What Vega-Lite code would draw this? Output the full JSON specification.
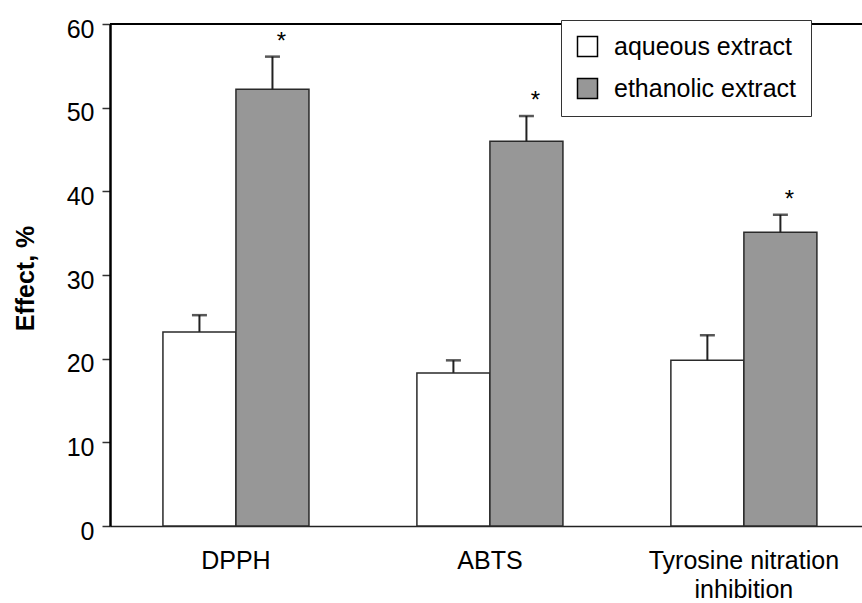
{
  "$schema": "https://vega.github.io/schema/vega-lite/v6.json",
  "autosize": "none",
  "width": 752,
  "height": 502,
  "padding": {"left": 110, "top": 24, "right": 0, "bottom": 77},
  "background": "white",
  "config": {
    "view": {"stroke": null},
    "font": "Liberation Sans",
    "axis": {"grid": false, "labelFont": "Liberation Sans", "titleFont": "Liberation Sans", "labelColor": "black", "titleColor": "black"},
    "legend": {"labelFont": "Liberation Sans"}
  },
  "data": {
    "values": [
      {"assay": "DPPH", "extract": "aqueous extract", "value": 23.2, "upper": 25.2, "sig": ""},
      {"assay": "DPPH", "extract": "ethanolic extract", "value": 52.2, "upper": 56.1, "sig": "*"},
      {"assay": "ABTS", "extract": "aqueous extract", "value": 18.3, "upper": 19.8, "sig": ""},
      {"assay": "ABTS", "extract": "ethanolic extract", "value": 46.0, "upper": 49.0, "sig": "*"},
      {"assay": "Tyrosine nitration inhibition", "extract": "aqueous extract", "value": 19.8, "upper": 22.8, "sig": ""},
      {"assay": "Tyrosine nitration inhibition", "extract": "ethanolic extract", "value": 35.1, "upper": 37.2, "sig": "*"}
    ]
  },
  "encoding": {
    "x": {
      "field": "assay",
      "type": "nominal",
      "sort": ["DPPH", "ABTS", "Tyrosine nitration inhibition"],
      "scale": {"paddingInner": 0.425, "paddingOuter": 0.193, "align": 0.54},
      "axis": {
        "title": null,
        "labelAngle": 0,
        "ticks": false,
        "tickSize": 0,
        "labelPadding": 22,
        "labelFontSize": 25,
        "labelLineHeight": 29,
        "labelLimit": 400,
        "domainColor": "#222222",
        "domainWidth": 1.5,
        "labelExpr": "datum.label == 'Tyrosine nitration inhibition' ? ['Tyrosine nitration', 'inhibition'] : datum.label"
      }
    },
    "xOffset": {
      "field": "extract",
      "type": "nominal",
      "sort": ["aqueous extract", "ethanolic extract"],
      "scale": {"paddingInner": 0, "paddingOuter": 0}
    }
  },
  "layer": [
    {
      "mark": {"type": "rule", "color": "black", "strokeWidth": 2},
      "encoding": {"y": {"datum": 60, "type": "quantitative"}, "x": null, "xOffset": null}
    },
    {
      "mark": {"type": "bar", "stroke": "#2a2a2a", "strokeWidth": 1.5},
      "encoding": {
        "y": {
          "field": "value",
          "type": "quantitative",
          "scale": {"domain": [0, 60], "nice": false},
          "axis": {
            "title": "Effect, %",
            "values": [0, 10, 20, 30, 40, 50, 60],
            "labelFontSize": 25,
            "labelPadding": 8,
            "labelOffset": 5,
            "tickSize": 8,
            "tickColor": "#333333",
            "tickWidth": 1.5,
            "domainColor": "black",
            "domainWidth": 2.5,
            "titleFontSize": 25,
            "titleFontWeight": "bold",
            "titleAngle": -90,
            "titleBaseline": "alphabetic",
            "titleAlign": "center",
            "titleX": -77,
            "titleY": 254
          }
        },
        "fill": {
          "field": "extract",
          "type": "nominal",
          "scale": {"domain": ["aqueous extract", "ethanolic extract"], "range": ["white", "#979797"]},
          "legend": {
            "title": null,
            "orient": "none",
            "legendX": 451,
            "legendY": -4,
            "padding": 14,
            "fillColor": "white",
            "strokeColor": "#333333",
            "symbolType": "square",
            "symbolSize": 400,
            "symbolStrokeColor": "black",
            "symbolStrokeWidth": 1.5,
            "labelFontSize": 25,
            "labelColor": "black",
            "labelOffset": 14,
            "labelLimit": 400,
            "rowPadding": 15
          }
        }
      }
    },
    {
      "mark": {"type": "rule", "color": "#222222", "strokeWidth": 2},
      "encoding": {
        "y": {"field": "value", "type": "quantitative"},
        "y2": {"field": "upper"}
      }
    },
    {
      "mark": {"type": "tick", "color": "#111111", "size": 15, "thickness": 2.5},
      "encoding": {
        "y": {"field": "upper", "type": "quantitative"}
      }
    },
    {
      "mark": {"type": "text", "fontSize": 24, "color": "black", "baseline": "alphabetic", "dx": 9, "dy": -8},
      "encoding": {
        "y": {"field": "upper", "type": "quantitative"},
        "text": {"field": "sig"}
      }
    }
  ]
}
